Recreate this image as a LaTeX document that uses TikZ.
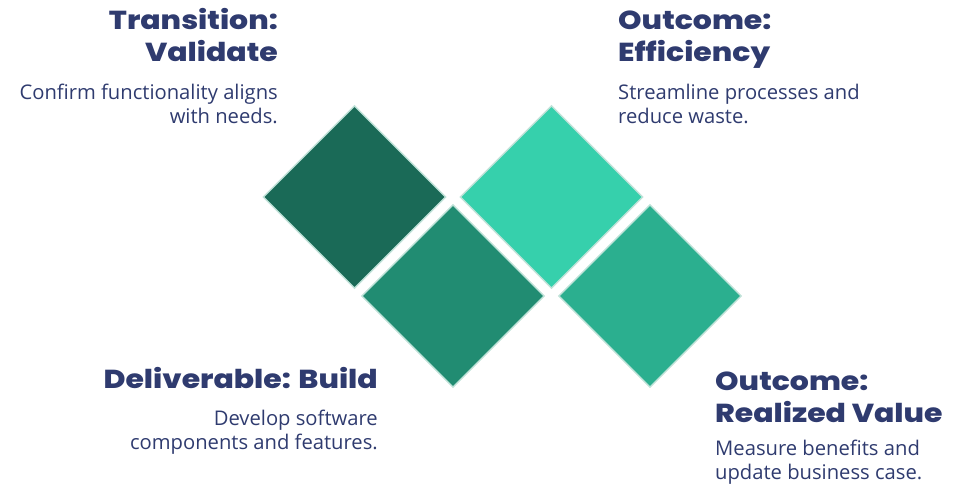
\documentclass[tikz,border=0pt]{standalone}
\usepackage{fontspec}
\usetikzlibrary{shapes.geometric}
\setmainfont{Open Sans}
\IfFontExistsTF{Poppins ExtraBold}
  {\newfontfamily\titlefont{Poppins ExtraBold}[FakeStretch=1.15]}
  {\newfontfamily\titlefont{Poppins}[UprightFont=*, BoldFont=*, UprightFeatures={FakeBold=2}, FakeStretch=1.15]}
\definecolor{ink}{HTML}{2F3B6F}
\definecolor{rim}{HTML}{BFE2D8}
\definecolor{gA}{HTML}{1A6A57}
\definecolor{gB}{HTML}{218C72}
\definecolor{gC}{HTML}{36D0AC}
\definecolor{gD}{HTML}{2BAF8F}
\tikzset{
  tile/.style={diamond, aspect=1, inner sep=0pt, minimum size=183pt, draw=rim, line width=1.4pt, fill=#1},
  head/.style={inner sep=0pt, text=ink, font=\titlefont\fontsize{26}{26}\selectfont},
  body/.style={inner sep=0pt, text=ink, font=\fontsize{20.2}{20.2}\selectfont},
}
\begin{document}
\begin{tikzpicture}[x=1pt, y=-1pt]
\useasboundingbox (0,0) rectangle (966,486);

% tiles
\node[tile=gA] (t1) at (354.5,197) {};
\node[tile=gB] (t2) at (453,296) {};
\node[tile=gC] (t3) at (551.5,197) {};
\node[tile=gD] (t4) at (650,296) {};

% upper left: transition
\node[head, anchor=base east] (h1a) at (278,30) {Transition:};
\node[head, anchor=base east] (h1b) at (278,62) {Validate};
\node[body, anchor=base east] (b1a) at (278,100) {Confirm functionality aligns};
\node[body, anchor=base east] (b1b) at (278,124) {with needs.};

% upper right: efficiency
\node[head, anchor=base west] (h2a) at (618,30) {Outcome:};
\node[head, anchor=base west] (h2b) at (618,62) {Efficiency};
\node[body, anchor=base west] (b2a) at (618,100) {Streamline processes and};
\node[body, anchor=base west] (b2b) at (618,124) {reduce waste.};

% lower left: build
\node[head, anchor=base east] (h3a) at (378,388) {Deliverable: Build};
\node[body, anchor=base east] (b3a) at (378,425) {Develop software};
\node[body, anchor=base east] (b3b) at (378,449) {components and features.};

% lower right: realized value
\node[head, anchor=base west] (h4a) at (715,390) {Outcome:};
\node[head, anchor=base west] (h4b) at (715,422) {Realized Value};
\node[body, anchor=base west] (b4a) at (715,455) {Measure benefits and};
\node[body, anchor=base west] (b4b) at (715,479) {update business case.};
\end{tikzpicture}
\end{document}
